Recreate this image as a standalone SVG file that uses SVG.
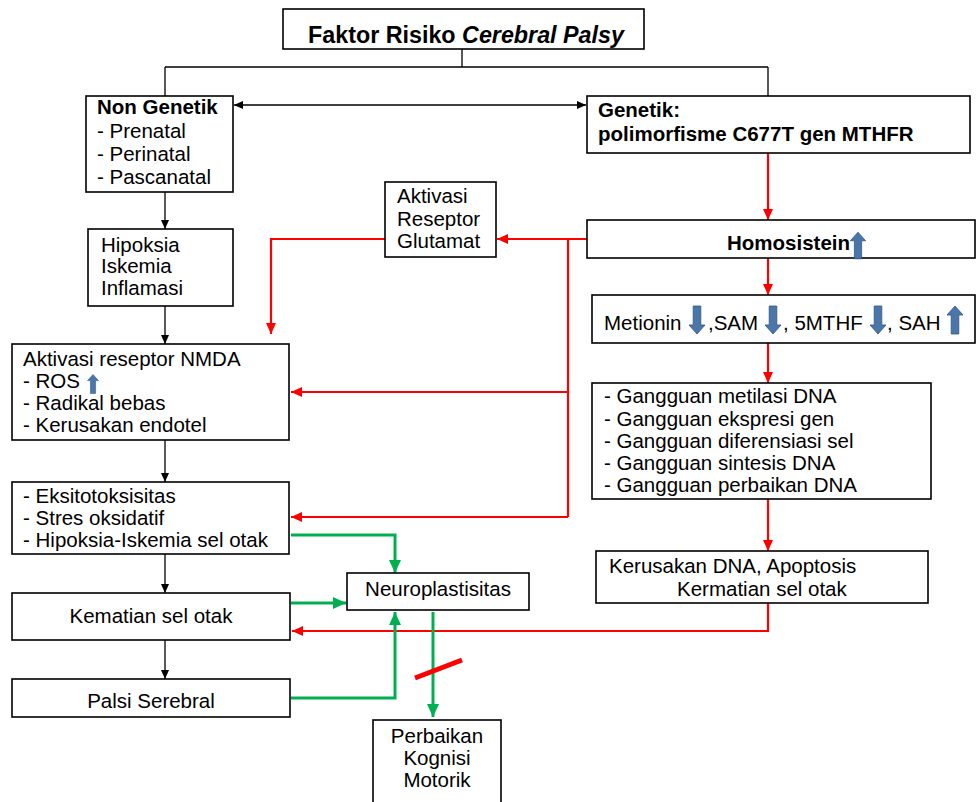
<svg xmlns="http://www.w3.org/2000/svg" xmlns:xlink="http://www.w3.org/1999/xlink" width="976" height="802" viewBox="0 0 976 802">
<style>
.box{fill:#fff;stroke:#000;stroke-width:1.6}
.t{font-family:"Liberation Sans",Arial,sans-serif;font-size:20.5px;fill:#000}
.b{font-weight:bold}
.k{fill:none;stroke:#000;stroke-width:1.3}
.r{fill:none;stroke:#ff0000;stroke-width:2.2}
.g{fill:none;stroke:#00b050;stroke-width:3}
.blue{fill:#4a76aa;stroke:#2e5585;stroke-width:0.8}
</style>
<defs>
<marker id="ak" markerUnits="userSpaceOnUse" markerWidth="10" markerHeight="10" refX="9" refY="5" orient="auto-start-reverse"><path d="M0,1 L9,5 L0,9 Z" fill="#000"/></marker>
<marker id="ar" markerUnits="userSpaceOnUse" markerWidth="12" markerHeight="12" refX="11" refY="6" orient="auto"><path d="M0,1 L11,6 L0,11 Z" fill="#ff0000"/></marker>
<marker id="ag" markerUnits="userSpaceOnUse" markerWidth="14" markerHeight="14" refX="13" refY="7" orient="auto"><path d="M0,1 L13,7 L0,13 Z" fill="#00b050"/></marker>
<path id="up" d="M0,-14 L8,-5 L3.8,-5 L3.8,14 L-3.8,14 L-3.8,-5 L-8,-5 Z"/>
</defs>

<g id="connectors">
<path class="k" d="M462,49 V67 M165,67 H768 M165,67 V96 M768,67 V96"/>
<line class="k" x1="234" y1="105" x2="586" y2="105" marker-start="url(#ak)" marker-end="url(#ak)"/>
<line class="k" x1="165" y1="192" x2="165" y2="229" marker-end="url(#ak)"/>
<line class="k" x1="165" y1="306" x2="165" y2="344" marker-end="url(#ak)"/>
<line class="k" x1="165" y1="440" x2="165" y2="482" marker-end="url(#ak)"/>
<line class="k" x1="165" y1="554" x2="165" y2="593" marker-end="url(#ak)"/>
<line class="k" x1="165" y1="640" x2="165" y2="679" marker-end="url(#ak)"/>

<line class="r" x1="768" y1="153" x2="768" y2="220" marker-end="url(#ar)"/>
<line class="r" x1="768" y1="258" x2="768" y2="295" marker-end="url(#ar)"/>
<line class="r" x1="768" y1="343" x2="768" y2="383" marker-end="url(#ar)"/>
<line class="r" x1="768" y1="499" x2="768" y2="551" marker-end="url(#ar)"/>
<line class="r" x1="587" y1="239" x2="497" y2="239" marker-end="url(#ar)"/>
<path class="r" d="M568,239 V517"/>
<line class="r" x1="568" y1="392" x2="291" y2="392" marker-end="url(#ar)"/>
<line class="r" x1="568" y1="517" x2="291" y2="517" marker-end="url(#ar)"/>
<path class="r" d="M385,239 H271 V334" marker-end="url(#ar)"/>
<path class="r" d="M768,603 V631 H292" marker-end="url(#ar)"/>

<path class="g" d="M291,535 H395 V573" marker-end="url(#ag)"/>
<line class="g" x1="291" y1="603" x2="346" y2="603" marker-end="url(#ag)"/>
<path class="g" d="M291,698 H395 V612" marker-end="url(#ag)"/>
<line class="g" x1="433" y1="612" x2="433" y2="717" marker-end="url(#ag)"/>
<line x1="415" y1="678" x2="462" y2="660" stroke="#ff0000" stroke-width="5"/>
</g>

<g id="title">
<rect class="box" x="283" y="9" width="361" height="40"/>
<text class="t b" x="308" y="43" font-size="23.3" style="font-size:23.3px">Faktor Risiko <tspan font-style="italic">Cerebral Palsy</tspan></text>
</g>

<g id="non-genetik">
<rect class="box" x="86" y="96" width="147" height="96"/>
<text class="t b" x="97" y="114">Non Genetik</text>
<text class="t" x="97" y="138">- Prenatal</text>
<text class="t" x="97" y="161">- Perinatal</text>
<text class="t" x="97" y="184">- Pascanatal</text>
</g>

<g id="genetik">
<rect class="box" x="587" y="96" width="383" height="57"/>
<text class="t b" x="598" y="117">Genetik:</text>
<text class="t b" x="598" y="141">polimorfisme C677T gen MTHFR</text>
</g>

<g id="hipoksia">
<rect class="box" x="88" y="229" width="145" height="77"/>
<text class="t" x="101" y="252">Hipoksia</text>
<text class="t" x="101" y="273">Iskemia</text>
<text class="t" x="101" y="295">Inflamasi</text>
</g>

<g id="glutamat">
<rect class="box" x="385" y="182" width="111" height="75"/>
<text class="t" x="397" y="203">Aktivasi</text>
<text class="t" x="397" y="226">Reseptor</text>
<text class="t" x="397" y="248">Glutamat</text>
</g>

<g id="homosistein">
<rect class="box" x="587" y="220" width="388" height="38"/>
<text class="t b" x="727" y="250">Homosistein</text>
<use href="#up" xlink:href="#up" class="blue" transform="translate(858,245.5) scale(0.95)"/>
</g>

<g id="metionin">
<rect class="box" x="592" y="295" width="383" height="48"/>
<text class="t" x="604" y="330">Metionin</text>
<use href="#up" xlink:href="#up" class="blue" transform="translate(697,320) rotate(180)"/>
<text class="t" x="708" y="330">,SAM</text>
<use href="#up" xlink:href="#up" class="blue" transform="translate(773,320) rotate(180)"/>
<text class="t" x="783" y="330">, 5MTHF</text>
<use href="#up" xlink:href="#up" class="blue" transform="translate(878,320) rotate(180)"/>
<text class="t" x="887" y="330">, SAH</text>
<use href="#up" xlink:href="#up" class="blue" transform="translate(955,320)"/>
</g>

<g id="gangguan">
<rect class="box" x="592" y="383" width="339" height="116"/>
<text class="t" x="604" y="403">- Gangguan metilasi DNA</text>
<text class="t" x="604" y="426">- Gangguan ekspresi gen</text>
<text class="t" x="604" y="448">- Gangguan diferensiasi sel</text>
<text class="t" x="604" y="470">- Gangguan sintesis DNA</text>
<text class="t" x="604" y="492">- Gangguan perbaikan DNA</text>
</g>

<g id="kerusakan">
<rect class="box" x="596" y="551" width="332" height="52"/>
<text class="t" x="609" y="573">Kerusakan DNA, Apoptosis</text>
<text class="t" x="677" y="596">Kermatian sel otak</text>
</g>

<g id="nmda">
<rect class="box" x="12" y="344" width="277" height="96"/>
<text class="t" x="23" y="366">Aktivasi reseptor NMDA</text>
<text class="t" x="23" y="388">- ROS</text>
<use href="#up" xlink:href="#up" class="blue" transform="translate(93,384) scale(0.68)"/>
<text class="t" x="23" y="410">- Radikal bebas</text>
<text class="t" x="23" y="432">- Kerusakan endotel</text>
</g>

<g id="eksitotoksisitas">
<rect class="box" x="12" y="482" width="277" height="72"/>
<text class="t" x="23" y="503">- Eksitotoksisitas</text>
<text class="t" x="23" y="525">- Stres oksidatif</text>
<text class="t" x="23" y="547">- Hipoksia-Iskemia sel otak</text>
</g>

<g id="kematian">
<rect class="box" x="12" y="593" width="278" height="47"/>
<text class="t" x="151" y="623" text-anchor="middle">Kematian sel otak</text>
</g>

<g id="palsi">
<rect class="box" x="12" y="679" width="278" height="38"/>
<text class="t" x="151" y="708" text-anchor="middle">Palsi Serebral</text>
</g>

<g id="neuroplastisitas">
<rect class="box" x="347" y="573" width="182" height="37"/>
<text class="t" x="438" y="596" text-anchor="middle">Neuroplastisitas</text>
</g>

<g id="perbaikan">
<rect class="box" x="373" y="720" width="128" height="100"/>
<text class="t" x="437" y="743" text-anchor="middle">Perbaikan</text>
<text class="t" x="437" y="765" text-anchor="middle">Kognisi</text>
<text class="t" x="437" y="787" text-anchor="middle">Motorik</text>
</g>
</svg>
